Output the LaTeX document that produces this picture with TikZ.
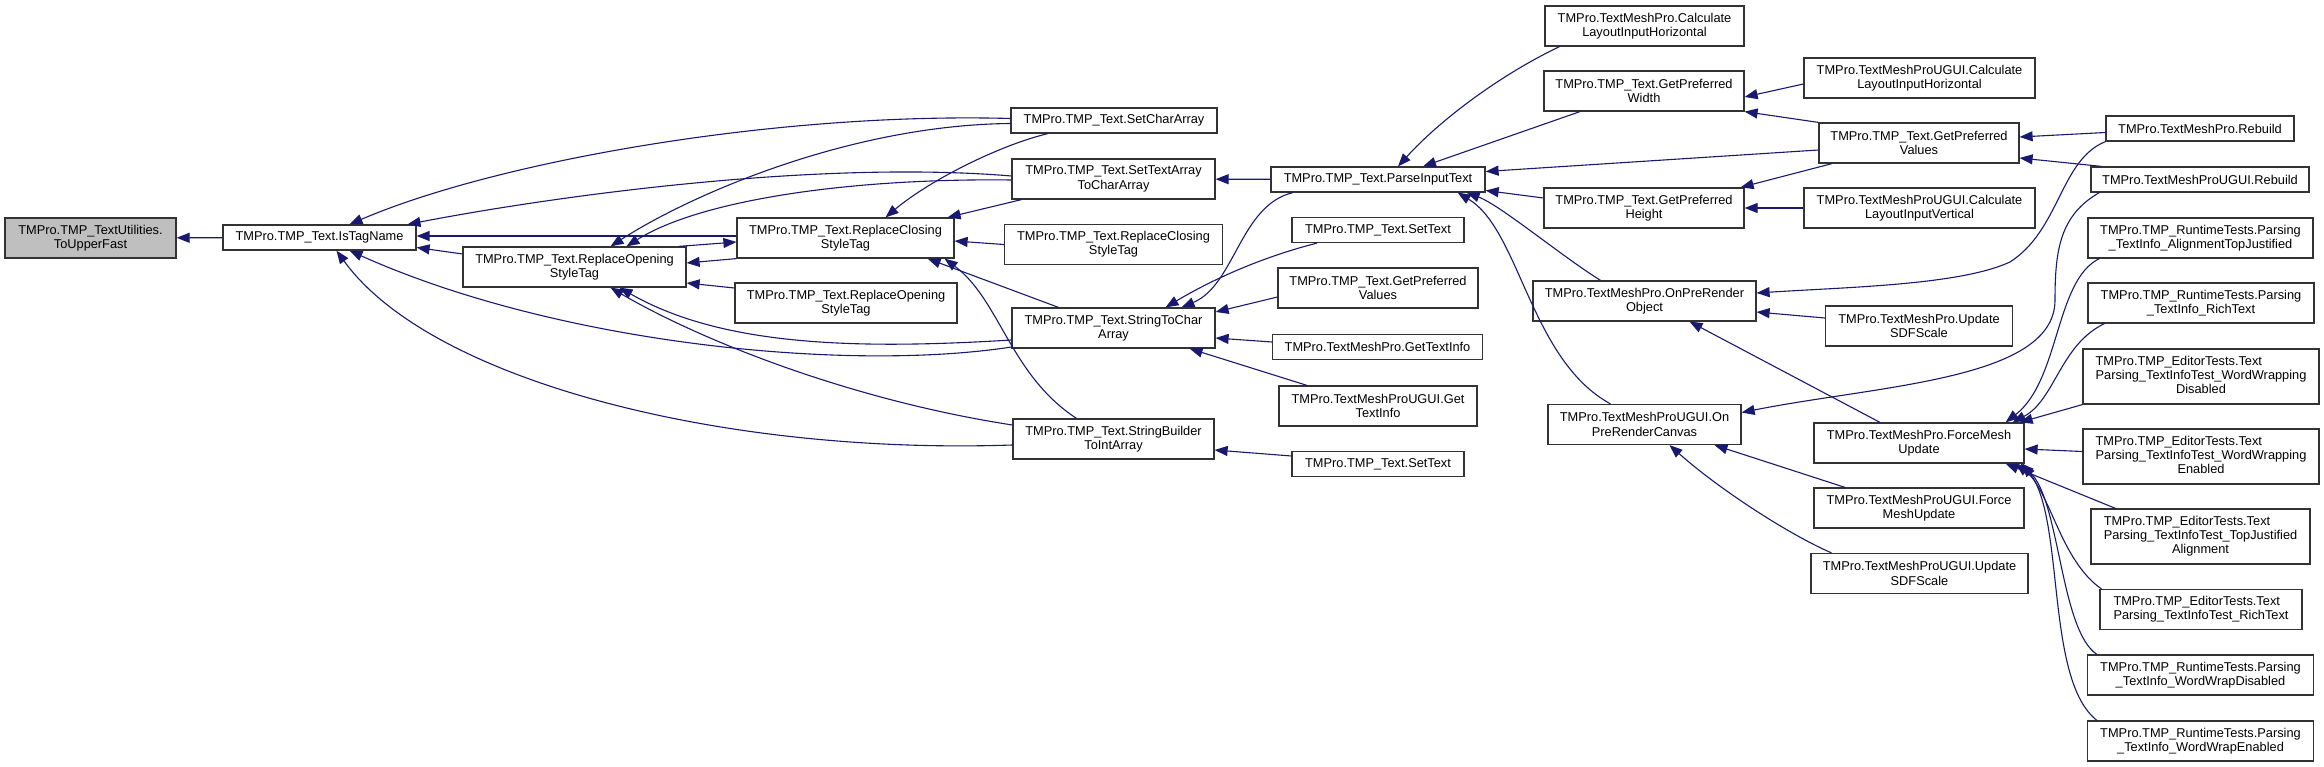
\documentclass[tikz,border=0pt]{standalone}
\usepackage{fontspec}
\setmainfont{Liberation Sans}
\usetikzlibrary{arrows.meta}

\definecolor{edgeblue}{HTML}{191970}
\definecolor{rootgray}{HTML}{BFBFBF}
\newcommand{\lefttext}[1]{\begin{tabular}{@{}l@{}}#1\end{tabular}}

\begin{document}
\begin{tikzpicture}[
    x=1pt, y=-1pt,
    fn/.style={draw=black!80, line width=1.2pt, fill=white, align=center,
        inner sep=1pt, font=\fontsize{12.8}{14.3}\selectfont},
    fn1/.style={fn, minimum height=25},
    fn2/.style={fn, minimum height=40},
    fn3/.style={fn, minimum height=55},
    root/.style={fn2, fill=rootgray},
    call/.style={draw=edgeblue, line width=1.1pt, -{Triangle[length=13pt,width=10pt]}}
]

    % --- frame ---
    \fill[white] (0,0) rectangle (2324,767);
    \useasboundingbox (0,0) rectangle (2324,767);

    % --- left part ---
    \node[root, minimum width=171] (root) at (90.5,238) {TMPro.TMP\_TextUtilities.\\ToUpperFast};
    \node[fn1, minimum width=193] (istag) at (319.5,237.5) {TMPro.TMP\_Text.IsTagName};
    \node[fn2, minimum width=223] (ropen) at (574.5,267) {TMPro.TMP\_Text.ReplaceOpening\\StyleTag};
    \node[fn2, minimum width=217] (rclose) at (845.5,238) {TMPro.TMP\_Text.ReplaceClosing\\StyleTag};
    \node[fn2, minimum width=222] (ropenb) at (846,303) {TMPro.TMP\_Text.ReplaceOpening\\StyleTag};

    % --- middle column ---
    \node[fn1, minimum width=206] (setchar) at (1114,120.5) {TMPro.TMP\_Text.SetCharArray};
    \node[fn2, minimum width=203] (settextarr) at (1113.5,179) {TMPro.TMP\_Text.SetTextArray\\ToCharArray};
    \node[fn2, minimum width=218] (rcloseb) at (1113.5,244.5) {TMPro.TMP\_Text.ReplaceClosing\\StyleTag};
    \node[fn2, minimum width=203] (strtochar) at (1113.5,328) {TMPro.TMP\_Text.StringToChar\\Array};
    \node[fn2, minimum width=201] (sbtoint) at (1113.5,439) {TMPro.TMP\_Text.StringBuilder\\ToIntArray};

    \node[fn1, minimum width=214] (parse) at (1378,179.5) {TMPro.TMP\_Text.ParseInputText};
    \node[fn1, minimum width=172] (settexta) at (1378,230) {TMPro.TMP\_Text.SetText};
    \node[fn2, minimum width=200] (prefvalsa) at (1378,288) {TMPro.TMP\_Text.GetPreferred\\Values};
    \node[fn1, minimum width=210] (gettextinfo) at (1377.5,347) {TMPro.TextMeshPro.GetTextInfo};
    \node[fn2, minimum width=198] (ugettextinfo) at (1378,406) {TMPro.TextMeshProUGUI.Get\\TextInfo};
    \node[fn1, minimum width=172] (settextb) at (1378,464) {TMPro.TMP\_Text.SetText};

    % --- right part ---
    \node[fn2, minimum width=199] (calchor) at (1644.5,26) {TMPro.TextMeshPro.Calculate\\LayoutInputHorizontal};
    \node[fn2, minimum width=200] (prefwidth) at (1644,91) {TMPro.TMP\_Text.GetPreferred\\Width};
    \node[fn2, minimum width=200] (prefheight) at (1644,208) {TMPro.TMP\_Text.GetPreferred\\Height};
    \node[fn2, minimum width=223] (onprerender) at (1644.5,301) {TMPro.TextMeshPro.OnPreRender\\Object};
    \node[fn2, minimum width=193] (uonprerender) at (1644.5,424.5) {TMPro.TextMeshProUGUI.On\\PreRenderCanvas};

    \node[fn2, minimum width=231] (ucalchor) at (1919.5,78) {TMPro.TextMeshProUGUI.Calculate\\LayoutInputHorizontal};
    \node[fn2, minimum width=200] (prefvalsb) at (1919,143) {TMPro.TMP\_Text.GetPreferred\\Values};
    \node[fn2, minimum width=231] (ucalcvert) at (1919.5,208) {TMPro.TextMeshProUGUI.Calculate\\LayoutInputVertical};
    \node[fn2, minimum width=187] (tmpsdf) at (1919,326) {TMPro.TextMeshPro.Update\\SDFScale};
    \node[fn2, minimum width=210] (forcemesh) at (1919,443) {TMPro.TextMeshPro.ForceMesh\\Update};
    \node[fn2, minimum width=210] (uforcemesh) at (1919,508) {TMPro.TextMeshProUGUI.Force\\MeshUpdate};
    \node[fn2, minimum width=217] (usdf) at (1919.5,573.5) {TMPro.TextMeshProUGUI.Update\\SDFScale};

    \node[fn1, minimum width=188] (tmprebuild) at (2200,128.5) {TMPro.TextMeshPro.Rebuild};
    \node[fn1, minimum width=218] (urebuild) at (2200,179.5) {TMPro.TextMeshProUGUI.Rebuild};
    \node[fn2, minimum width=225] (rtalign) at (2200.5,238) {TMPro.TMP\_RuntimeTests.Parsing\\\_TextInfo\_AlignmentTopJustified};
    \node[fn2, minimum width=226] (rtrich) at (2201,303) {TMPro.TMP\_RuntimeTests.Parsing\\\_TextInfo\_RichText};
    \node[fn3, minimum width=236] (edwwdis) at (2201,376.5) {\lefttext{TMPro.TMP\_EditorTests.Text\\Parsing\_TextInfoTest\_WordWrapping\\\multicolumn{1}{@{}c@{}}{Disabled}}};
    \node[fn3, minimum width=236] (edwwen) at (2201,456.5) {\lefttext{TMPro.TMP\_EditorTests.Text\\Parsing\_TextInfoTest\_WordWrapping\\\multicolumn{1}{@{}c@{}}{Enabled}}};
    \node[fn3, minimum width=219] (edtopjust) at (2200.5,536.5) {\lefttext{TMPro.TMP\_EditorTests.Text\\Parsing\_TextInfoTest\_TopJustified\\\multicolumn{1}{@{}c@{}}{Alignment}}};
    \node[fn2, minimum width=202] (edrich) at (2201,609.5) {\lefttext{TMPro.TMP\_EditorTests.Text\\Parsing\_TextInfoTest\_RichText}};
    \node[fn2, minimum width=226] (rtwwdis) at (2200.5,675) {TMPro.TMP\_RuntimeTests.Parsing\\\_TextInfo\_WordWrapDisabled};
    \node[fn2, minimum width=226] (rtwwen) at (2200.5,741) {TMPro.TMP\_RuntimeTests.Parsing\\\_TextInfo\_WordWrapEnabled};

    % --- calls into IsTagName / ToUpperFast ---
    \draw[call] (istag) -- (root);
    \draw[call] ([yshift=2]setchar.west) .. controls (780,112) and (500,160) .. ([xshift=30]istag.north);
    \draw[call] ([yshift=3]settextarr.west) .. controls (820,160) and (560,195) .. ([xshift=88]istag.north);
    \draw[call] ([yshift=2]rclose.west) -- ([yshift=1.5]istag.east);
    \draw[call] ([yshift=13]ropen.west) -- ([yshift=-10]istag.east);
    \draw[call] ([yshift=-19]strtochar.west) .. controls (850,372) and (560,345) .. ([xshift=30]istag.south);
    \draw[call] ([yshift=-6]sbtoint.west) .. controls (720,455) and (430,380) .. ([xshift=17]istag.south);

    % --- ReplaceOpening / ReplaceClosing ---
    \draw[call] ([yshift=-3]setchar.west) .. controls (850,125) and (690,195) .. ([xshift=36]ropen.north);
    \draw[call] ([yshift=-1]settextarr.west) .. controls (850,178) and (700,200) .. ([xshift=52]ropen.north);
    \draw[call] (rclose.south west) -- ([yshift=4]ropen.east);
    \draw[call] ([yshift=15]ropenb.west) -- ([yshift=-16]ropen.east);
    \draw[call] ([yshift=-12]strtochar.west) .. controls (850,350) and (720,345) .. ([xshift=45]ropen.south);
    \draw[call] ([yshift=14]sbtoint.west) .. controls (850,400) and (700,340) .. ([xshift=36]ropen.south);

    \draw[call] ([xshift=-8]ropen.north east) -- ([yshift=-4]rclose.west);
    \draw[call] ([xshift=-66]setchar.south) .. controls (1000,145) and (930,180) .. ([xshift=40]rclose.north);
    \draw[call] ([xshift=-92]settextarr.south) -- ([xshift=-7]rclose.north east);
    \draw[call] (rcloseb.west) -- ([yshift=-3]rclose.east);
    \draw[call] ([xshift=-55]strtochar.north) -- ([xshift=-27]rclose.south east);
    \draw[call] ([xshift=-37]sbtoint.north) .. controls (1010,375) and (1000,300) .. ([xshift=-10]rclose.south east);

    % --- middle calls ---
    \draw[call] (parse) -- (settextarr);
    \draw[call] ([xshift=-85]parse.south) .. controls (1240,205) and (1235,285) .. ([xshift=68]strtochar.north);
    \draw[call] ([xshift=-61]settexta.south) .. controls (1270,255) and (1220,275) .. ([xshift=52]strtochar.north);
    \draw[call] ([yshift=-9]prefvalsa.west) -- ([yshift=16]strtochar.east);
    \draw[call] ([yshift=5]gettextinfo.west) -- ([yshift=-10]strtochar.east);
    \draw[call] ([xshift=-71]ugettextinfo.north) -- ([xshift=-26]strtochar.south east);
    \draw[call] ([yshift=8]settextb.west) -- ([yshift=-11]sbtoint.east);

    % --- into ParseInputText ---
    \draw[call] ([xshift=-85]calchor.south) .. controls (1500,75) and (1440,120) .. ([xshift=20]parse.north);
    \draw[call] ([xshift=-64]prefwidth.south) -- ([xshift=45]parse.north);
    \draw[call] ([yshift=-7]prefvalsb.west) -- ([yshift=8]parse.east);
    \draw[call] ([yshift=10]prefheight.west) -- ([yshift=-11]parse.east);
    \draw[call] ([xshift=-44]onprerender.north) .. controls (1560,255) and (1500,205) .. ([xshift=-19]parse.south east);
    \draw[call] ([xshift=-34]uonprerender.north) .. controls (1530,360) and (1520,230) .. ([xshift=-28]parse.south east);

    % --- GetPreferred* ---
    \draw[call] ([yshift=-6]ucalchor.west) -- ([yshift=-6]prefwidth.east);
    \draw[call] (prefvalsb.north west) -- (prefwidth.south east);
    \draw[call] ([xshift=-87]prefvalsb.south) -- ([xshift=-4]prefheight.north east);
    \draw[call] (ucalcvert) -- (prefheight);
    \draw[call] ([yshift=-4]tmprebuild.west) -- ([yshift=6]prefvalsb.east);
    \draw[call] ([xshift=11]urebuild.north west) -- ([yshift=-15]prefvalsb.east);

    % --- OnPreRender* ---
    \draw[call] (tmprebuild.south west) .. controls (2060,160) and (2060,230) .. (2010,262)
        .. controls (1960,285) and (1850,287) .. ([yshift=8]onprerender.east);
    \draw[call] ([yshift=8]tmpsdf.west) -- ([yshift=-11]onprerender.east);
    \draw[call] ([xshift=-39]forcemesh.north) -- ([xshift=45]onprerender.south);
    \draw[call] ([xshift=9]urebuild.south west) .. controls (2060,215) and (2055,250) .. (2055,300)
        .. controls (2055,380) and (1880,385) .. ([yshift=12]uonprerender.east);
    \draw[call] ([xshift=-74]uforcemesh.north) -- ([xshift=70]uonprerender.south);
    \draw[call] ([xshift=-88]usdf.north) .. controls (1790,535) and (1720,490) .. ([xshift=25]uonprerender.south);

    % --- tests into ForceMeshUpdate ---
    \draw[call] ([xshift=12]rtalign.south west) .. controls (2055,280) and (2060,380) .. ([xshift=-19]forcemesh.north east);
    \draw[call] ([xshift=17]rtrich.south west) .. controls (2060,345) and (2055,400) .. ([xshift=-12]forcemesh.north east);
    \draw[call] (edwwdis.south west) -- ([xshift=-5]forcemesh.north east);
    \draw[call] ([yshift=5]edwwen.west) -- ([yshift=-6]forcemesh.east);
    \draw[call] ([xshift=-85]edtopjust.north) -- ([xshift=-19]forcemesh.south east);
    \draw[call] ([xshift=2]edrich.north west) .. controls (2060,560) and (2050,490) .. ([xshift=-9]forcemesh.south east);
    \draw[call] ([xshift=10]rtwwdis.north west) .. controls (2060,630) and (2060,500) .. ([xshift=-4]forcemesh.south east);
    \draw[call] ([xshift=10]rtwwen.north west) .. controls (2045,680) and (2065,520) .. ([xshift=-2]forcemesh.south east);

\end{tikzpicture}
\end{document}
